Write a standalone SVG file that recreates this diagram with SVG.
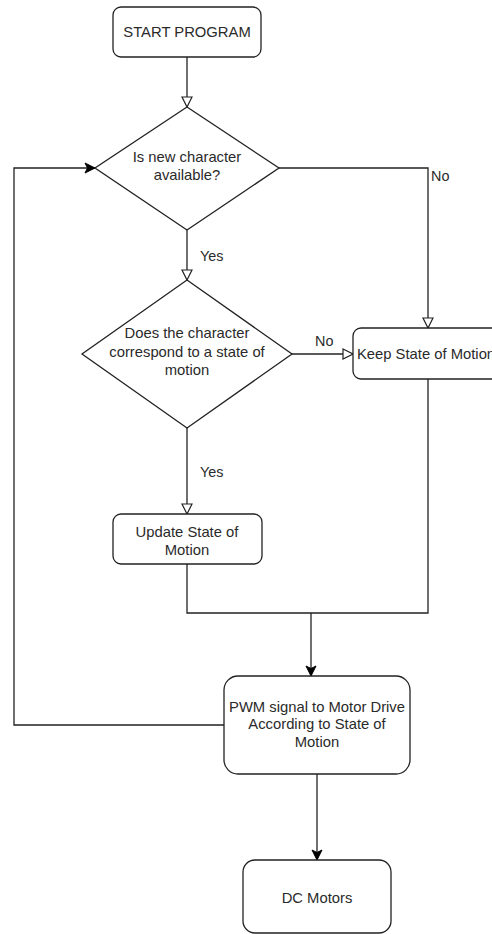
<svg xmlns="http://www.w3.org/2000/svg" width="492" height="934" viewBox="0 0 492 934">
<defs>
<style>
.n{fill:#fff;stroke:#222;stroke-width:1.3}
.t{font-family:"Liberation Sans",Arial,sans-serif;font-size:14.8px;fill:#2a2a2a;text-anchor:middle}
.l{font-family:"Liberation Sans",Arial,sans-serif;font-size:14.4px;fill:#2a2a2a}
.c{fill:none;stroke:#222;stroke-width:1.3}
</style>
<marker id="open" viewBox="0 0 12 12" refX="11" refY="6" markerWidth="12" markerHeight="12" markerUnits="userSpaceOnUse" orient="auto">
<path d="M1,1 L11,6 L1,11 Z" fill="#fff" stroke="#222" stroke-width="1.2"/>
</marker>
<marker id="fill" viewBox="0 0 12 12" refX="11" refY="6" markerWidth="12" markerHeight="12" markerUnits="userSpaceOnUse" orient="auto">
<path d="M1,1 L11,6 L1,11 L3.5,6 Z" fill="#000" stroke="#000" stroke-width="1"/>
</marker>
</defs>
<rect width="492" height="934" fill="#fff"/>
<g id="connectors">
<path class="c" d="M187,57 V107" marker-end="url(#open)"/>
<path class="c" d="M187,230 V280" marker-end="url(#open)"/>
<path class="c" d="M279,168 H428 V328" marker-end="url(#open)"/>
<path class="c" d="M292,354 H353" marker-end="url(#open)"/>
<path class="c" d="M187,428 V514" marker-end="url(#open)"/>
<path class="c" d="M187,564 V613 H428 V379"/>
<path class="c" d="M311,613 V676" stroke-width="1.8" marker-end="url(#fill)"/>
<path class="c" d="M224,725 H14 V168 H95" marker-end="url(#fill)"/>
<path class="c" d="M317,774 V860" marker-end="url(#fill)"/>
<text class="l" x="431" y="181">No</text>
<text class="l" x="200" y="261">Yes</text>
<text class="l" x="315" y="346">No</text>
<text class="l" x="200" y="477">Yes</text>
</g>
<g id="start">
<rect class="n" x="113" y="7" width="148" height="50" rx="8"/>
<text class="t" x="187" y="37">START PROGRAM</text>
</g>
<g id="decision1">
<path class="n" d="M187,107 L279,168 L187,230 L95,168 Z"/>
<text class="t" x="187" y="162">Is new character</text>
<text class="t" x="187" y="180">available?</text>
</g>
<g id="decision2">
<path class="n" d="M187,280 L292,354 L187,428 L82,354 Z"/>
<text class="t" x="187" y="338">Does the character</text>
<text class="t" x="187" y="357">correspond to a state of</text>
<text class="t" x="187" y="375">motion</text>
</g>
<g id="keep">
<rect class="n" x="353" y="328" width="150" height="51" rx="8"/>
<text class="t" x="426" y="359">Keep State of Motion</text>
</g>
<g id="update">
<rect class="n" x="113" y="514" width="149" height="50" rx="8"/>
<text class="t" x="187" y="537">Update State of</text>
<text class="t" x="187" y="555">Motion</text>
</g>
<g id="pwm">
<rect class="n" x="224" y="676" width="186" height="98" rx="14"/>
<text class="t" x="317" y="712">PWM signal to Motor Drive</text>
<text class="t" x="317" y="729">According to State of</text>
<text class="t" x="317" y="747">Motion</text>
</g>
<g id="dc">
<rect class="n" x="243" y="860" width="148" height="73" rx="12"/>
<text class="t" x="317" y="903">DC Motors</text>
</g>
</svg>
